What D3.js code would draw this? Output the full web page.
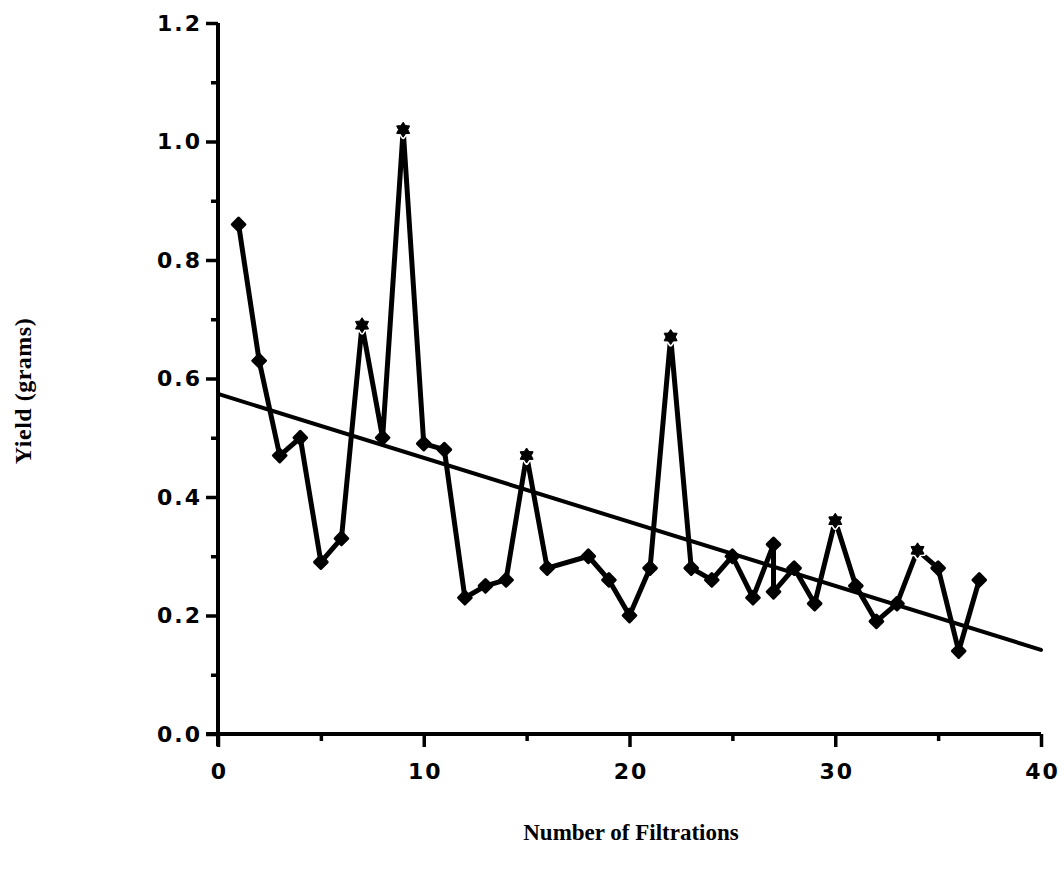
<!DOCTYPE html>
<html>
<head>
<meta charset="utf-8">
<script src="https://cdn.jsdelivr.net/npm/d3@7"></script>
<style>
  html, body { margin: 0; padding: 0; background: #fff; }
  svg { display: block; }
</style>
</head>
<body>
<svg id="chart" width="1064" height="879"></svg>
<script>
// ---- data ----
const filtrations = [1,2,3,4,5,6,7,8,9,10,11,12,13,14,15,16,18,19,20,21,22,23,24,25,26,27,27,28,29,30,31,32,33,34,35,36,37];
const yields = [0.86,0.63,0.47,0.50,0.29,0.33,0.69,0.50,1.02,0.49,0.48,0.23,0.25,0.26,0.47,0.28,0.30,0.26,0.20,0.28,0.67,0.28,0.26,0.30,0.23,0.32,0.24,0.28,0.22,0.36,0.25,0.19,0.22,0.31,0.28,0.14,0.26];
const markerKinds = ["d","d","d","d","d","d","s","d","s","d","d","d","d","d","s","d","d","d","d","d","s","d","d","d","d","d","d","d","d","s","d","d","d","s","d","d","d"];
const trendX = [0, 40];
const trendY = [0.574, 0.142];
const xTicks = [0, 10, 20, 30, 40];
const xMinorTicks = [5, 15, 25, 35];
const yTicks = [0.0, 0.2, 0.4, 0.6, 0.8, 1.0, 1.2];
const yMinorTicks = [0.1, 0.3, 0.5, 0.7, 0.9, 1.1];
const xLabel = "Number of Filtrations";
const yLabel = "Yield (grams)";

// ---- layout ----
const svg = d3.select("#chart");
const x = d3.scaleLinear().domain([0, 40]).range([218, 1041]);
const y = d3.scaleLinear().domain([0, 1.2]).range([734, 23]);

const tickFont = "'DejaVu Sans', Verdana, sans-serif";
const labelFont = "'Liberation Serif', 'Times New Roman', serif";
const LS = 2;

// y axis
const yAxis = d3.axisLeft(y).tickValues(yTicks).tickFormat(d3.format(".1f")).tickSize(12).tickPadding(4);
const gy = svg.append("g").attr("transform", `translate(${x(0)},0)`).call(yAxis);
gy.select(".domain").attr("stroke", "#000").attr("stroke-width", 4).attr("d", `M0,${y(1.2)}V${y(0) + 12}`);
gy.selectAll(".tick line").attr("stroke", "#000").attr("stroke-width", 3.5);
gy.selectAll(".tick text").attr("font-family", tickFont).attr("font-weight", "bold")
  .attr("font-size", 22).attr("letter-spacing", LS).attr("fill", "#000");
const yMinor = d3.axisLeft(y).tickValues(yMinorTicks).tickSize(7).tickFormat("");
const gym = svg.append("g").attr("transform", `translate(${x(0)},0)`).call(yMinor);
gym.select(".domain").remove();
gym.selectAll(".tick line").attr("stroke", "#000").attr("stroke-width", 3.5);

// x axis
const xAxis = d3.axisBottom(x).tickValues(xTicks).tickFormat(d3.format("d")).tickSize(13).tickPadding(16);
const gx = svg.append("g").attr("transform", `translate(0,${y(0)})`).call(xAxis);
gx.select(".domain").attr("stroke", "#000").attr("stroke-width", 4).attr("d", `M${x(0) - 12},0H${x(40)}`);
gx.selectAll(".tick line").attr("stroke", "#000").attr("stroke-width", 3.5);
gx.selectAll(".tick text").attr("font-family", tickFont).attr("font-weight", "bold")
  .attr("font-size", 22).attr("letter-spacing", LS).attr("dx", LS / 2).attr("fill", "#000");
const xMinor = d3.axisBottom(x).tickValues(xMinorTicks).tickSize(7).tickFormat("");
const gxm = svg.append("g").attr("transform", `translate(0,${y(0)})`).call(xMinor);
gxm.select(".domain").remove();
gxm.selectAll(".tick line").attr("stroke", "#000").attr("stroke-width", 3.5);

// trend line
svg.append("line")
  .attr("x1", x(trendX[0])).attr("y1", y(trendY[0]))
  .attr("x2", x(trendX[1])).attr("y2", y(trendY[1]))
  .attr("stroke", "#000").attr("stroke-width", 4).attr("stroke-linecap", "round");

// data line
const pts = filtrations.map((f, i) => ({ f, v: yields[i], k: markerKinds[i] }));
const line = d3.line().x(d => x(d.f)).y(d => y(d.v));
svg.append("path").datum(pts).attr("d", line)
  .attr("fill", "none").attr("stroke", "#000").attr("stroke-width", 5)
  .attr("stroke-linejoin", "round").attr("stroke-linecap", "round");

// diamond markers
svg.selectAll(".dia").data(pts.filter(d => d.k === "d")).join("path")
  .attr("class", "dia")
  .attr("d", d3.symbol().type(d3.symbolSquare).size(80))
  .attr("transform", d => `translate(${x(d.f)},${y(d.v)}) rotate(45)`)
  .attr("fill", "#000").attr("stroke", "#000").attr("stroke-width", 3).attr("stroke-linejoin", "round");

// six-point star markers
const star6 = {
  draw(ctx, size) {
    const R = Math.sqrt(size) * 0.75, r = R * 0.62;
    for (let i = 0; i < 12; i++) {
      const a = -Math.PI / 2 + i * Math.PI / 6;
      const rad = i % 2 === 0 ? R : r;
      const px = Math.cos(a) * rad, py = Math.sin(a) * rad;
      if (i === 0) ctx.moveTo(px, py); else ctx.lineTo(px, py);
    }
    ctx.closePath();
  }
};
const stars = pts.filter(d => d.k === "s");
svg.selectAll(".halo").data(stars).join("path")
  .attr("class", "halo")
  .attr("d", d3.symbol().type(star6).size(100))
  .attr("transform", d => `translate(${x(d.f)},${y(d.v)})`)
  .attr("fill", "#fff").attr("stroke", "#fff").attr("stroke-width", 4).attr("stroke-linejoin", "round");
svg.selectAll(".star").data(stars).join("path")
  .attr("class", "star")
  .attr("d", d3.symbol().type(star6).size(100))
  .attr("transform", d => `translate(${x(d.f)},${y(d.v)})`)
  .attr("fill", "#000").attr("stroke", "#000").attr("stroke-width", 1).attr("stroke-linejoin", "round");

// axis titles
svg.append("text")
  .attr("x", 631).attr("y", 840)
  .attr("text-anchor", "middle")
  .attr("font-family", labelFont).attr("font-weight", "bold").attr("font-size", 23)
  .attr("fill", "#000")
  .text(xLabel);
svg.append("text")
  .attr("transform", "translate(31,391) rotate(-90)")
  .attr("text-anchor", "middle")
  .attr("font-family", labelFont).attr("font-weight", "bold").attr("font-size", 24)
  .attr("letter-spacing", 0.5)
  .attr("fill", "#000")
  .text(yLabel);
</script>
</body>
</html>
